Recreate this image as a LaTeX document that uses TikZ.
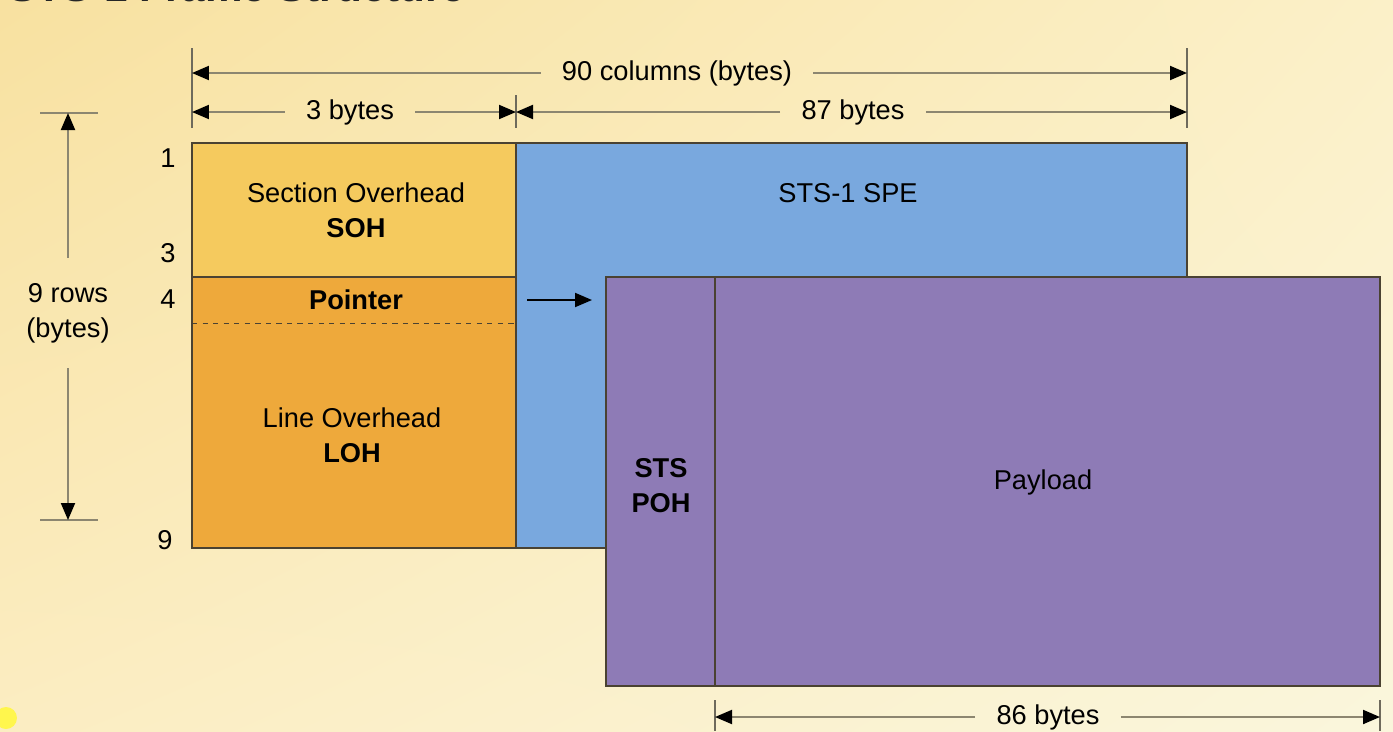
\documentclass[tikz,border=0pt]{standalone}
\usepackage{fontspec}
\setmainfont{Liberation Sans}
\usetikzlibrary{arrows.meta,shadings}
\definecolor{bgtl}{HTML}{F8E1A0}
\definecolor{bgtr}{HTML}{FBF0C8}
\definecolor{bgbl}{HTML}{FBEDC2}
\definecolor{bgbr}{HTML}{FAF6DC}
\definecolor{sohfill}{HTML}{F5CA5E}
\definecolor{lohfill}{HTML}{EEA93B}
\definecolor{spefill}{HTML}{79A8DE}
\definecolor{pohfill}{HTML}{8E7BB6}
\definecolor{edge}{HTML}{4A4232}
\definecolor{dimgray}{HTML}{8C8670}
\definecolor{tickgray}{HTML}{6E6A5C}
\begin{document}
\begin{tikzpicture}[x=0.02cm,y=-0.02cm,
  area/.style={draw=edge,line width=0.6pt},
  dimline/.style={draw=dimgray,line width=1.1pt,-{Triangle[length=0.34cm,width=0.28cm,color=black]}},
  tickline/.style={draw=tickgray,line width=0.8pt},
  txt/.style={font=\fontsize{15.5}{20}\selectfont,align=center,inner sep=0pt},
  btxt/.style={txt,font=\fontsize{15.5}{20}\selectfont\bfseries},
  dimtxt/.style={txt,inner xsep=0.42cm,inner ysep=0.5cm}]
\useasboundingbox (0,0) rectangle (1393,731);
\shade[upper left=bgtl,upper right=bgtr,lower left=bgbl,lower right=bgbr] (0,0) rectangle (1393,731);
\begin{scope}
\clip (0,0) rectangle (1393,731);
\node[anchor=base west,inner sep=0pt,text=black!85,font=\fontsize{24}{28}\selectfont\bfseries] (title) at (8,1.5) {STS-1 Frame Structure};
\fill[yellow!70!white] (6,718) circle (0.22cm);
\end{scope}

\coordinate (L) at (192,73);
\coordinate (R) at (1187,73);
\coordinate (Lb) at (192,112);
\coordinate (Mb) at (516,112);
\coordinate (Rb) at (1187,112);
\coordinate (T) at (68,113);
\coordinate (B) at (68,520);
\coordinate (Pl) at (715,717);
\coordinate (Pr) at (1380,717);
\coordinate (ptrA) at (527,300);
\coordinate (ptrB) at (592,300);

\draw[area,fill=sohfill] (192,143) rectangle (516,277);
\draw[area,fill=lohfill] (192,277) rectangle (516,548);
\draw[area,dashed,line width=0.5pt] (192,323) -- (516,323);
\draw[area,fill=spefill] (516,143) rectangle (1187,548);
\draw[area,fill=pohfill] (606,277) rectangle (1380,686);
\draw[area] (715,277) -- (715,686);

\draw[tickline] (192,48) -- (192,128);
\draw[tickline] (1187,48) -- (1187,128);
\draw[tickline] (516,95) -- (516,128);
\draw[tickline] (715,700) -- (715,731);
\draw[tickline] (1380,700) -- (1380,731);
\draw[draw=dimgray,line width=1.1pt] (40,113) -- (98,113);
\draw[draw=dimgray,line width=1.1pt] (40,520) -- (98,520);

\node[dimtxt] (cols) at (677,73) {90 columns (bytes)};
\node[dimtxt] (three) at (350,112) {3 bytes};
\node[dimtxt] (eightyseven) at (853,112) {87 bytes};
\node[dimtxt] (eightysix) at (1048,717) {86 bytes};
\node[dimtxt] (rows) at (68,313) {9 rows\\(bytes)};

\draw[dimline] (cols.west) -- (L);
\draw[dimline] (cols.east) -- (R);
\draw[dimline] (three.west) -- (Lb);
\draw[dimline] (three.east) -- (Mb);
\draw[dimline] (eightyseven.west) -- (Mb);
\draw[dimline] (eightyseven.east) -- (Rb);
\draw[dimline] (eightysix.west) -- (Pl);
\draw[dimline] (eightysix.east) -- (Pr);
\draw[dimline] (rows.north) -- (T);
\draw[dimline] (rows.south) -- (B);
\draw[black,line width=1.1pt,-{Triangle[length=0.34cm,width=0.28cm]}] (ptrA) -- (ptrB);

\node[txt] (r1) at (168,158) {1};
\node[txt] (r3) at (168,253) {3};
\node[txt] (r4) at (168,299) {4};
\node[txt] (r9) at (165,540) {9};

\node[txt] (soh) at (356,210) {Section Overhead\\\textbf{SOH}};
\node[btxt] (ptr) at (356,300) {Pointer};
\node[txt] (loh) at (352,435) {Line Overhead\\\textbf{LOH}};
\node[txt] (spe) at (848,193) {STS-1 SPE};
\node[btxt] (poh) at (661,486) {STS\\POH};
\node[txt] (payload) at (1043,482) {Payload};
\end{tikzpicture}
\end{document}
